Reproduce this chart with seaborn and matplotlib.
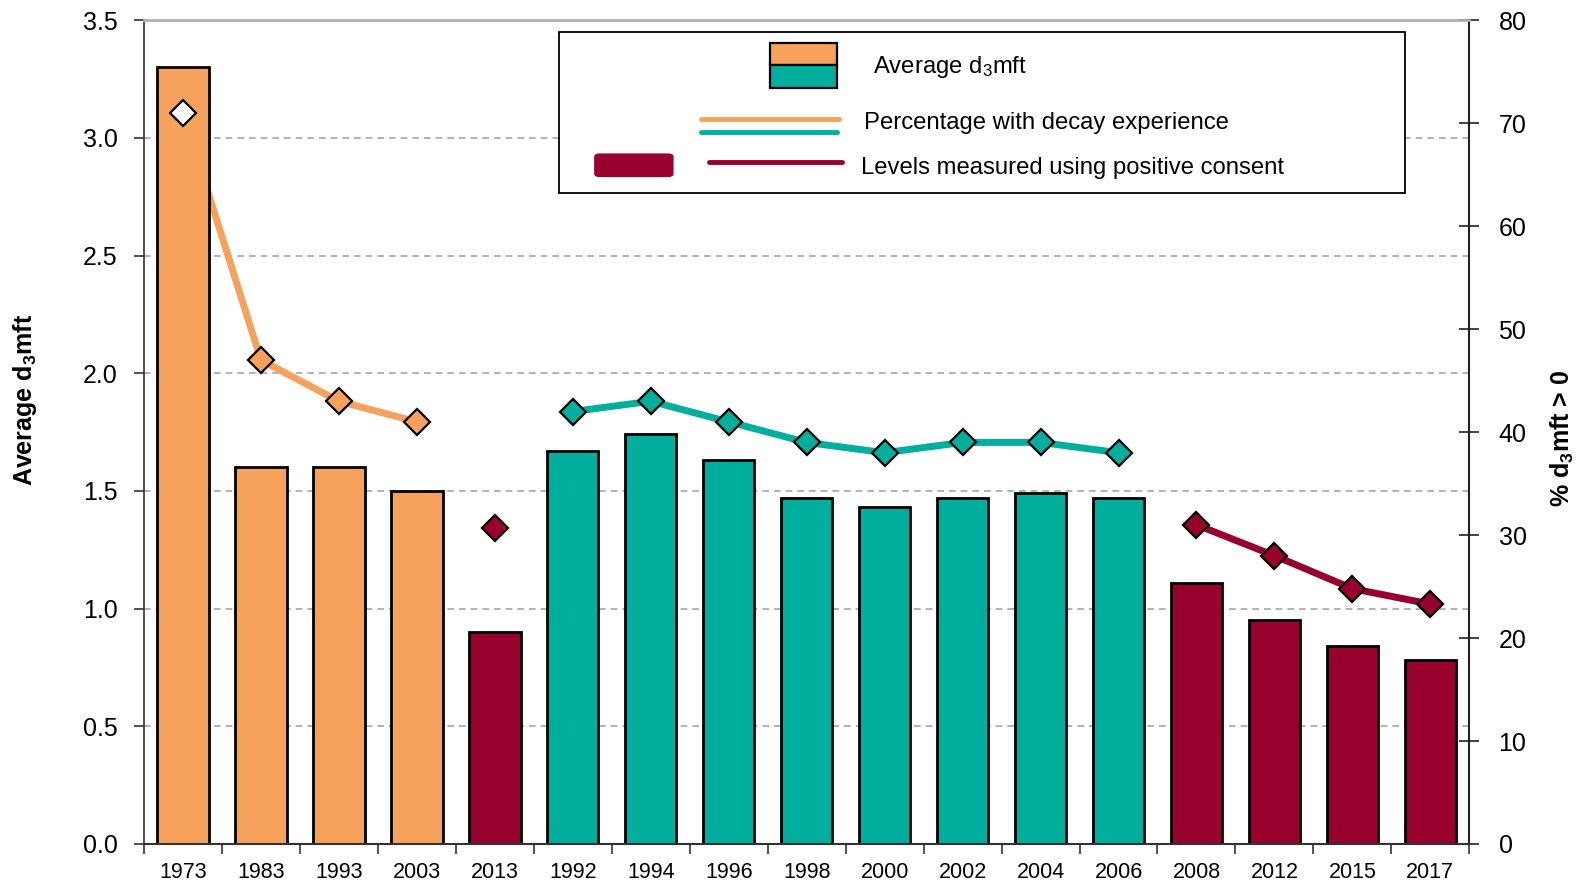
import matplotlib
matplotlib.use("Agg")
import matplotlib.pyplot as plt
import matplotlib.transforms as mtransforms
from matplotlib.patches import Rectangle, FancyBboxPatch
from matplotlib.lines import Line2D
import seaborn as sns
import pandas as pd
import numpy as np

# Survey years, in the order they are shown along the x axis
years = ["1973", "1983", "1993", "2003", "2013",
         "1992", "1994", "1996", "1998", "2000", "2002", "2004", "2006",
         "2008", "2012", "2015", "2017"]
series = ["early", "early", "early", "early", "consent",
          "mid", "mid", "mid", "mid", "mid", "mid", "mid", "mid",
          "consent", "consent", "consent", "consent"]

# Average d3mft (left axis)
avg_d3mft = [3.30, 1.60, 1.60, 1.50, 0.90,
             1.67, 1.74, 1.63, 1.47, 1.43, 1.47, 1.49, 1.47,
             1.11, 0.95, 0.84, 0.78]

# Percentage with d3mft > 0 (right axis)
pct_decay = [71, 47, 43, 41, 30.7,
             42, 43, 41, 39, 38, 39, 39, 38,
             31, 28, 24.8, 23.3]

ORANGE = "#F7A25C"
TEAL = "#00AE9D"
MAROON = "#98002E"
palette = {"early": ORANGE, "mid": TEAL, "consent": MAROON}

df = pd.DataFrame({"year": years, "series": series,
                   "avg": avg_d3mft, "pct": pct_decay})

sns.set_theme(style="white")
plt.rcParams["font.family"] = ["Liberation Sans", "DejaVu Sans"]
plt.rcParams["mathtext.default"] = "regular"
plt.rcParams["text.color"] = "black"
plt.rcParams["axes.labelcolor"] = "black"

fig = plt.figure(figsize=(15.89, 8.81), dpi=100)
ax = fig.add_axes([0.0906, 0.042, 0.8341, 0.935])
ax2 = ax.twinx()

# Bars sit above the percentage lines; the bar axes has a transparent background
ax.set_zorder(ax2.get_zorder() + 1)
ax.patch.set_visible(False)

sns.barplot(data=df, x="year", y="avg", hue="series", palette=palette,
            order=years, dodge=False, legend=False, width=0.66,
            edgecolor="black", linewidth=2, saturation=1, ax=ax)

n = len(years)
ax.set_xlim(-0.5, n - 0.5)
ax.set_ylim(0, 3.5)
ax2.set_ylim(0, 80)

# Dashed horizontal grid at the left-axis ticks, drawn underneath the lines
grid_tr = mtransforms.blended_transform_factory(ax2.transAxes, ax.transData)
for v in np.arange(0.5, 3.01, 0.5):
    ax2.plot([0, 1], [v, v], transform=grid_tr, color="#A6A6A6",
             lw=1.2, ls=(0, (4, 3)), zorder=0)

# Percentage lines per series
pos = np.arange(n)
df["pos"] = pos
for key, col in [("early", ORANGE), ("mid", TEAL), ("consent", MAROON)]:
    sub = df[(df["series"] == key) & (df["year"] != "2013")]
    ax2.plot(sub["pos"], sub["pct"], color=col, lw=5, zorder=2,
             solid_capstyle="butt")
    for (_, r) in sub.iterrows():
        if r["year"] == "1973":
            continue
        ax2.plot(r["pos"], r["pct"], marker="D", ms=13.5, mfc=col,
                 mec="black", mew=1.6, zorder=3, ls="none")

# 2013 positive-consent point stands alone
r13 = df[df["year"] == "2013"].iloc[0]
ax2.plot(r13["pos"], r13["pct"], marker="D", ms=13.5, mfc=MAROON,
         mec="black", mew=1.6, zorder=3, ls="none")

# 1973 point is drawn hollow over its bar
r73 = df[df["year"] == "1973"].iloc[0]
ax.plot(r73["pos"], r73["pct"], marker="D", ms=13.5, mfc="white",
        mec="black", mew=1.6, ls="none", transform=ax2.transData, zorder=5,
        clip_on=False)

# Axes styling
for a in (ax, ax2):
    for s in a.spines.values():
        s.set_visible(False)
ax.spines["left"].set_visible(True)
ax.spines["left"].set_color("#333333")
ax.spines["left"].set_linewidth(1.2)
ax.spines["bottom"].set_visible(True)
ax.spines["bottom"].set_color("#333333")
ax.spines["bottom"].set_linewidth(1.5)
ax.spines["top"].set_visible(True)
ax.spines["top"].set_color("#B0B0B0")
ax.spines["top"].set_linewidth(2.0)
ax2.spines["right"].set_visible(True)
ax2.spines["right"].set_color("#222222")
ax2.spines["right"].set_linewidth(1.5)

ax.set_yticks(np.arange(0, 3.51, 0.5))
ax.set_yticklabels([f"{v:.1f}" for v in np.arange(0, 3.51, 0.5)])
ax2.set_yticks(np.arange(0, 81, 10))
ax.tick_params(axis="y", direction="out", length=7, width=1.2,
               color="#333333", pad=12, labelsize=18, left=True,
               labelcolor="black")
ax2.tick_params(axis="y", direction="inout", length=14, width=1.2,
                color="#222222", pad=14, labelsize=18, right=True,
                labelcolor="black")

ax.set_xticks(pos)
ax.set_xticklabels(years)
ax.set_xticks(np.arange(-0.5, n, 1.0), minor=True)
ax.tick_params(axis="x", which="major", length=0, pad=13, labelsize=15.5,
               labelcolor="black")
ax.tick_params(axis="x", which="minor", direction="out", length=7,
               width=1.2, color="#333333", bottom=True)

ax.set_xlabel("")
ax.set_ylabel("Average d$_3$mft", fontsize=18, fontweight="bold")
ax.yaxis.set_label_coords(-0.0795, 0.539)
ax2.set_ylabel("% d$_3$mft > 0", fontsize=18, fontweight="bold", rotation=90)
ax2.yaxis.set_label_coords(1.0600, 0.493)

# Legend box
def fx(px):
    return px / 1568.0

def fy(py):
    return 1.0 - py / 869.0

legend_box = Rectangle((fx(552), fy(190)), fx(1386) - fx(552), fy(32) - fy(190),
                       transform=fig.transFigure, facecolor="white",
                       edgecolor="black", lw=1.3, zorder=10)
fig.patches.append(legend_box)
fig.patches.append(Rectangle((fx(760), fy(64)), fx(826) - fx(760), fy(42) - fy(64),
                             transform=fig.transFigure, facecolor=ORANGE,
                             edgecolor="black", lw=1.6, zorder=11))
fig.patches.append(Rectangle((fx(760), fy(87)), fx(826) - fx(760), fy(64) - fy(87),
                             transform=fig.transFigure, facecolor=TEAL,
                             edgecolor="black", lw=1.6, zorder=11))
fig.patches.append(FancyBboxPatch((fx(587), fy(174)), fx(664) - fx(587), fy(152) - fy(174),
                                  boxstyle="round,pad=0,rounding_size=0.003",
                                  transform=fig.transFigure, facecolor=MAROON,
                                  edgecolor=MAROON, lw=1, zorder=11))
fig.lines.append(Line2D([fx(692), fx(828)], [fy(117), fy(117)],
                        transform=fig.transFigure, color=ORANGE, lw=3.5, zorder=11))
fig.lines.append(Line2D([fx(692), fx(826)], [fy(130), fy(130)],
                        transform=fig.transFigure, color=TEAL, lw=3.5, zorder=11))
fig.lines.append(Line2D([fx(700), fx(831)], [fy(160), fy(160)],
                        transform=fig.transFigure, color=MAROON, lw=3.5, zorder=11))
fig.text(fx(861), fy(66), "Average d$_3$mft", fontsize=17.2, va="center",
         ha="left", zorder=12)
fig.text(fx(853), fy(121), "Percentage with decay experience", fontsize=17.2,
         va="center", ha="left", zorder=12)
fig.text(fx(850), fy(166), "Levels measured using positive consent", fontsize=17.2,
         va="center", ha="left", zorder=12)

fig.savefig("out.png", dpi=100)
